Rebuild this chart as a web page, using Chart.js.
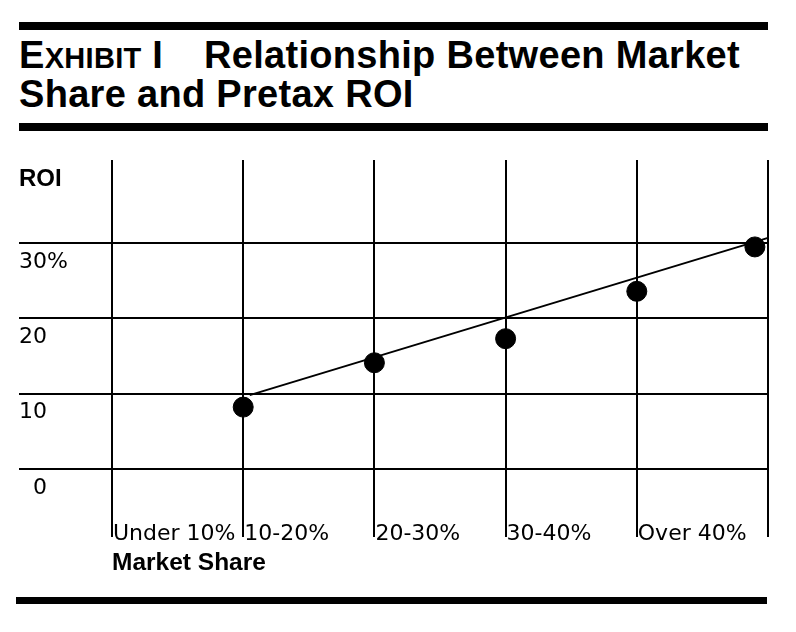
<!DOCTYPE html>
<html>
<head>
<meta charset="utf-8">
<script src="https://cdn.jsdelivr.net/npm/chart.js@4/dist/chart.umd.min.js"></script>
<style>
  body { margin: 0; background: #fff; width: 796px; height: 632px; position: relative; overflow: hidden; }
  .rule { position: absolute; background: #000; }
  #title { position: absolute; left: 19px; top: 37px; font: bold 38px "Liberation Sans", Arial, sans-serif; line-height: 36px; letter-spacing: 0.3px; color: #000; white-space: nowrap; }
  #title .lead { display: inline-block; width: 185px; }
  #title .sc { font-size: 29px; }
  #wrap { position: absolute; left: 0; top: 140px; width: 796px; height: 460px; }
</style>
</head>
<body>
<div class="rule" style="left:19px;top:22px;width:749px;height:8px"></div>
<div id="title"><span class="lead">E<span class="sc">XHIBIT</span> I</span>Relationship Between Market<br>Share and Pretax ROI</div>
<div class="rule" style="left:19px;top:123px;width:749px;height:8px"></div>
<div id="wrap"><canvas id="chart" width="796" height="460"></canvas></div>
<div class="rule" style="left:16px;top:597px;width:751px;height:7px"></div>
<script>
// market share brackets, one per column
const categories = ['Under 10%', '10-20%', '20-30%', '30-40%', 'Over 40%'];
// where each dot sits along the share axis (column boundaries) and its ROI
const pointX = [1, 2, 3, 4, 4.9];
const roiValues = [8.2, 14.1, 17.3, 23.6, 29.5];
// fitted line ends
const trendX = [1.05, 5];
const trendY = [9.8, 30.7];
// y axis ticks; the top one only carries the axis name
const yMin = -9.07;
const yMax = 41.06;
const yTickValues = [0, 10, 20, 30, yMax];
const yTickLabels = ['0', '10', '20', '30%', 'ROI'];

const regular = { family: 'DejaVu Sans', size: 22 };
const bold = { family: 'Liberation Sans', size: 24, weight: 'bold' };

const ctx = document.getElementById('chart').getContext('2d');
const chart = new Chart(ctx, {
  type: 'scatter',
  data: {
    datasets: [{
      type: 'line',
      data: trendX.map((x, i) => ({ x: x, y: trendY[i] })),
      borderColor: '#000',
      borderWidth: 2,
      pointRadius: 0,
      fill: false,
      order: 2
    }, {
      data: pointX.map((x, i) => ({ x: x, y: roiValues[i] })),
      backgroundColor: '#000',
      borderColor: '#000',
      pointRadius: 10,
      pointHoverRadius: 10,
      order: 1
    }]
  },
  options: {
    responsive: false,
    animation: false,
    clip: false,
    layout: { padding: { top: 20, left: 19, right: 28, bottom: 13 } },
    plugins: {
      legend: { display: false },
      tooltip: { enabled: false }
    },
    scales: {
      x: {
        type: 'linear',
        min: 0,
        max: 5,
        border: { display: false },
        grid: { color: '#000', lineWidth: 2, drawTicks: false },
        ticks: {
          stepSize: 1,
          autoSkip: false,
          maxRotation: 0,
          minRotation: 0,
          align: 'start',
          mirror: true,
          labelOffset: 1,
          padding: -10,
          color: '#000',
          font: regular,
          callback: (val, i) => categories[i] || ''
        },
        title: {
          display: true,
          text: 'Market Share',
          align: 'start',
          color: '#000',
          font: { family: 'Liberation Sans', size: 24.5, weight: 'bold' },
          padding: { top: 0, bottom: 9 }
        },
        afterFit: (s) => { s.height = 50; s.paddingLeft = 0; s.paddingRight = 0; }
      },
      y: {
        type: 'linear',
        min: yMin,
        max: yMax,
        border: { display: false },
        afterBuildTicks: (s) => { s.ticks = yTickValues.map(v => ({ value: v })); },
        grid: {
          color: (c) => c.index === 4 ? 'rgba(0,0,0,0)' : '#000',
          tickColor: (c) => c.index === 4 ? 'rgba(0,0,0,0)' : '#000',
          lineWidth: 2,
          drawTicks: true,
          tickLength: 93
        },
        ticks: {
          crossAlign: 'far',
          labelOffset: 19,
          padding: 0,
          color: '#000',
          font: (c) => c.index === 4 ? bold : regular,
          callback: (val, i) => {
            const t = yTickLabels[i];
            return t.length === 1 ? '\u2007' + t : t;
          }
        },
        afterFit: (s) => { s.width = 93; s.paddingTop = 0; s.paddingBottom = 0; }
      }
    }
  }
});
</script>
</body>
</html>
